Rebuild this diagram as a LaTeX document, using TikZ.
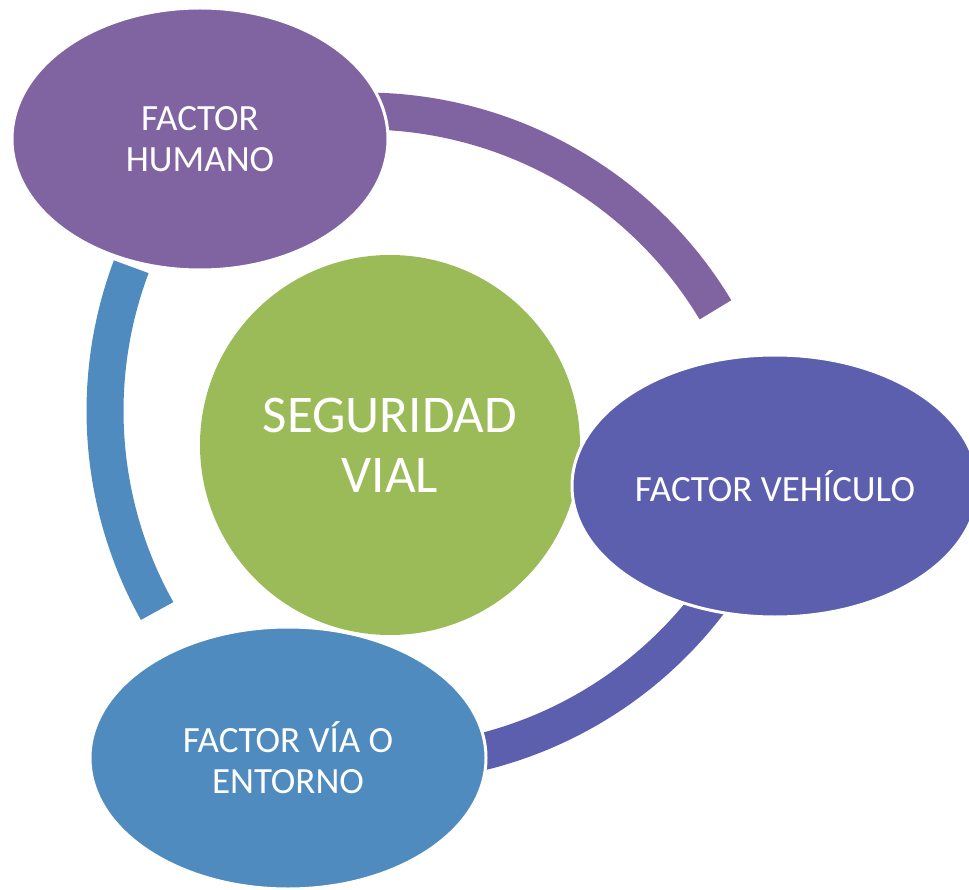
\documentclass[tikz,border=0pt]{standalone}
\usepackage{fontspec}
\setmainfont{Carlito}
\usetikzlibrary{shapes.geometric}
\definecolor{cyclepurple}{RGB}{128,100,162}
\definecolor{cycleindigo}{RGB}{91,95,174}
\definecolor{cycleblue}{RGB}{79,139,191}
\definecolor{cyclegreen}{RGB}{155,187,89}

\begin{document}
\begin{tikzpicture}[x=1pt,y=1pt,
  factor/.style={ellipse,draw=white,line width=3pt,text=white,align=center,
    inner sep=0pt,minimum height=262pt,font=\fontsize{37}{41}\selectfont},
  ringarc/.style={line width=37pt}]
\useasboundingbox (0,0) rectangle (969,-890);

% Centre
\node[circle,fill=cyclegreen,minimum size=380pt,inner sep=0pt,text=white,
  align=center,font=\fontsize{53}{60}\selectfont] (seguridad) at (390,-445) {SEGURIDAD\\VIAL};

% Arcs
\draw[ringarc,cyclepurple] (364,-521) ++(95:410) arc[start angle=95,end angle=31,radius=410];
\draw[ringarc,cycleindigo] (383,-354) ++(-34:410) arc[start angle=-34,end angle=-80,radius=410];
\draw[ringarc,cycleblue] (515,-411) ++(159.4:410) arc[start angle=159.4,end angle=209.2,radius=410];

% Factors
\node[factor,fill=cyclepurple,minimum width=376pt] (humano) at (200,-139) {FACTOR\\HUMANO};
\node[factor,fill=cycleindigo,minimum width=406pt] (vehiculo) at (775,-486) {FACTOR VEHÍCULO};
\node[factor,fill=cycleblue,minimum width=396pt] (entorno) at (288,-758) {FACTOR VÍA O\\ENTORNO};
\end{tikzpicture}
\end{document}
